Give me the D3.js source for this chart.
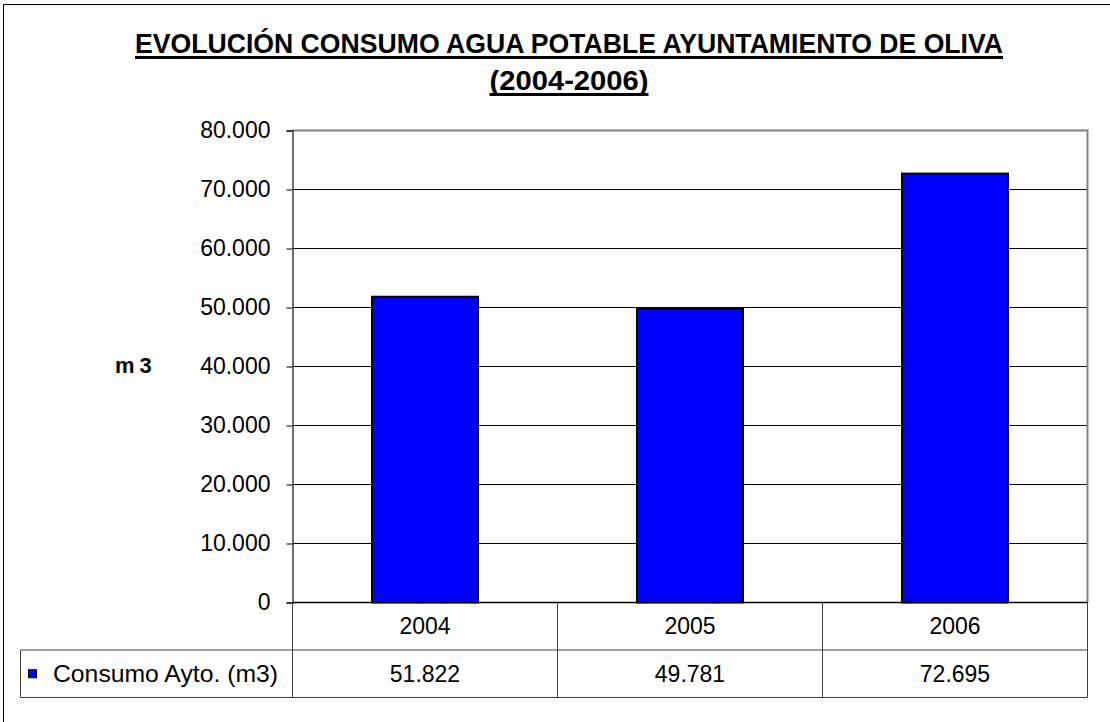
<!DOCTYPE html>
<html lang="es">
<head>
  <meta charset="utf-8">
  <title>Consumo agua Oliva</title>
  <script src="https://cdn.jsdelivr.net/npm/d3@7"></script>
  <style>
    body { margin: 0; background: #fff; }
    svg { display: block; font-family: "Liberation Sans", Arial, sans-serif; }
  </style>
</head>
<body>
  <svg id="chart" width="1110" height="722"></svg>

  <script>
    // datos
    const years = ["2004", "2005", "2006"]
    const consumo = [51822, 49781, 72695]
    const yTicks = [0, 10000, 20000, 30000, 40000, 50000, 60000, 70000, 80000]
    const serieName = "Consumo Ayto. (m3)"
    const titleLines = ["EVOLUCIÓN CONSUMO AGUA POTABLE AYUNTAMIENTO DE OLIVA", "(2004-2006)"]

    const es = d3.formatLocale({ decimal: ",", thousands: ".", grouping: [3], currency: ["", "€"] })
    const fmt = es.format(",")

    const svg = d3.select("#chart")
    const plot = { left: 292.5, right: 1087.5, top: 130.5, bottom: 602.5 }
    const rowH = 47.5

    // marco exterior
    svg.append("path")
      .attr("d", "M3.5,722V4.5H1110")
      .attr("fill", "none")
      .attr("stroke", "#000")

    // titulo
    const titleX = 569
    const titleY = [52.5, 89.5]
    const titleW = [868, 159]
    titleLines.forEach((t, i) => {
      svg.append("text")
        .attr("x", titleX)
        .attr("y", titleY[i])
        .attr("text-anchor", "middle")
        .attr("font-size", 28)
        .attr("font-weight", "bold")
        .attr("textLength", titleW[i])
        .attr("lengthAdjust", "spacingAndGlyphs")
        .text(t)
      svg.append("rect")
        .attr("x", titleX - titleW[i] / 2)
        .attr("y", titleY[i] + 3.5)
        .attr("width", titleW[i])
        .attr("height", 3)
        .attr("fill", "#000")
    })

    const x = d3.scaleBand()
      .domain(years)
      .range([plot.left, plot.right])
      .paddingInner(0.6)
      .paddingOuter(0.3)

    const xCol = d3.scaleBand()
      .domain(years)
      .range([plot.left, plot.right])

    const y = d3.scaleLinear()
      .domain([0, 80000])
      .range([plot.bottom, plot.top])

    // lineas de division
    svg.append("g")
      .selectAll("line")
      .data(yTicks.slice(1, -1))
      .join("line")
      .attr("x1", plot.left)
      .attr("x2", plot.right)
      .attr("y1", d => y(d))
      .attr("y2", d => y(d))
      .attr("stroke", "#000")

    // borde del area de trazado
    svg.append("path")
      .attr("d", `M${plot.left},${plot.top}H${plot.right}V${plot.bottom}`)
      .attr("fill", "none")
      .attr("stroke", "#808080")
      .attr("stroke-width", 2)

    // barras
    svg.append("g")
      .selectAll("rect")
      .data(years)
      .join("rect")
      .attr("x", d => x(d))
      .attr("y", (d, i) => y(consumo[i]))
      .attr("width", x.bandwidth())
      .attr("height", (d, i) => y(0) - y(consumo[i]))
      .attr("fill", "#0000ff")
      .attr("stroke", "#000")
      .attr("stroke-width", 2)

    // eje y
    const yAxis = d3.axisLeft(y)
      .tickValues(yTicks)
      .tickFormat(fmt)
      .tickSize(6)
      .tickPadding(16)

    const gy = svg.append("g")
      .attr("transform", `translate(${plot.left},0)`)
      .call(yAxis)
    gy.select(".domain").attr("stroke", "#404040").attr("stroke-width", 1.5)
    gy.selectAll(".tick line").attr("stroke", "#000")
    gy.selectAll(".tick text")
      .attr("font-size", 23)
      .attr("font-family", null)
      .attr("fill", "#000")

    svg.append("text")
      .attr("x", 115)
      .attr("y", 373)
      .attr("font-size", 22)
      .attr("font-weight", "bold")
      .attr("letter-spacing", 5)
      .text("m3")

    // tabla de datos
    const tableLeft = 20.5
    const row1 = plot.bottom
    const row2 = plot.bottom + rowH
    const row3 = plot.bottom + rowH * 2
    const tbl = svg.append("g").attr("stroke", "#404040").attr("fill", "none")

    tbl.append("line").attr("x1", plot.left).attr("x2", plot.right).attr("y1", row1).attr("y2", row1).attr("stroke", "#000").attr("stroke-width", 1.5)
    tbl.append("line").attr("x1", tableLeft).attr("x2", plot.right).attr("y1", row2).attr("y2", row2)
    tbl.append("line").attr("x1", tableLeft).attr("x2", plot.right).attr("y1", row3).attr("y2", row3)
    tbl.append("line").attr("x1", tableLeft).attr("x2", tableLeft).attr("y1", row2).attr("y2", row3)
    tbl.selectAll(".col")
      .data(years.map(d => xCol(d)).concat([plot.right]))
      .join("line")
      .attr("class", "col")
      .attr("x1", d => d)
      .attr("x2", d => d)
      .attr("y1", row1)
      .attr("y2", row3)

    svg.append("g")
      .selectAll("text")
      .data(years)
      .join("text")
      .attr("x", d => xCol(d) + xCol.bandwidth() / 2)
      .attr("y", row1 + rowH / 2)
      .attr("dy", "0.35em")
      .attr("text-anchor", "middle")
      .attr("font-size", 23)
      .text(d => d)

    svg.append("g")
      .selectAll("text")
      .data(consumo)
      .join("text")
      .attr("x", (d, i) => xCol(years[i]) + xCol.bandwidth() / 2)
      .attr("y", row2 + rowH / 2)
      .attr("dy", "0.35em")
      .attr("text-anchor", "middle")
      .attr("font-size", 23)
      .text(d => fmt(d))

    // leyenda
    svg.append("rect")
      .attr("x", 28.5)
      .attr("y", row2 + rowH / 2 - 4)
      .attr("width", 8)
      .attr("height", 8)
      .attr("fill", "#0000ff")
      .attr("stroke", "#000")

    svg.append("text")
      .attr("x", 53)
      .attr("y", row2 + rowH / 2)
      .attr("dy", "0.35em")
      .attr("font-size", 24)
      .attr("textLength", 225)
      .attr("lengthAdjust", "spacingAndGlyphs")
      .text(serieName)
  </script>
</body>
</html>
